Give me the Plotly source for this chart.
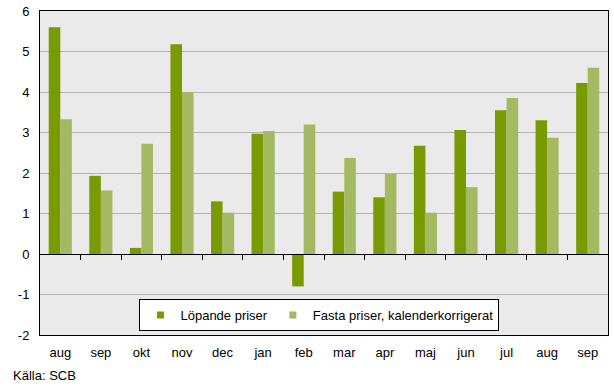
import plotly.graph_objects as go

months = ["aug", "sep", "okt", "nov", "dec", "jan", "feb", "mar", "apr", "maj", "jun", "jul", "aug", "sep"]
lopande = [5.6, 1.93, 0.15, 5.18, 1.3, 2.97, -0.8, 1.54, 1.4, 2.67, 3.06, 3.55, 3.3, 4.22]
fasta = [3.33, 1.57, 2.72, 4.0, 1.02, 3.04, 3.2, 2.37, 1.98, 1.02, 1.65, 3.85, 2.87, 4.6]
yticks = [-2, -1, 0, 1, 2, 3, 4, 5, 6]
source = "Källa: SCB"
names = ["Löpande priser", "Fasta priser, kalenderkorrigerat"]
colors = ["#7a9a01", "#a5b862"]

x = list(range(len(months)))
font = dict(family="Liberation Sans, Arial, sans-serif", size=13, color="#000000")

fig = go.Figure()
fig.add_trace(go.Bar(x=x, y=lopande, name=names[0], marker=dict(color=colors[0], line_width=0), showlegend=False))
fig.add_trace(go.Bar(x=x, y=fasta, name=names[1], marker=dict(color=colors[1], line_width=0), showlegend=False))
# legend proxies with small square symbols
for n, c in zip(names, colors):
    fig.add_trace(go.Scatter(x=[None], y=[None], mode="markers", name=n,
                             marker=dict(symbol="square", size=7, color=c)))
# invisible trace to activate the zero-line axis with ticks
fig.add_trace(go.Scatter(x=[x[0], x[-1]], y=[0, 0], xaxis="x2", mode="lines",
                         line=dict(width=0), showlegend=False, hoverinfo="skip"))

fig.update_layout(
    width=614, height=390,
    margin=dict(l=40, r=6, t=11, b=55),
    paper_bgcolor="white", plot_bgcolor="#eaeaea",
    font=font,
    barmode="group", bargap=0.43, bargroupgap=0,
    showlegend=True,
    legend=dict(orientation="h", x=0.492, xanchor="center", y=0.012, yanchor="bottom",
                bgcolor="white", bordercolor="black", borderwidth=1,
                font=dict(size=13), tracegroupgap=0, itemwidth=30),
    xaxis=dict(range=[-0.5, len(months) - 0.5], tickmode="array", tickvals=x, ticktext=months,
               showgrid=False, zeroline=False, showline=True, linecolor="black", linewidth=1,
               mirror=True, ticks="", ticklen=0, automargin=False, ticklabelstandoff=5),
    xaxis2=dict(range=[-0.5, len(months) - 0.5], overlaying="x", anchor="free", position=0.25,
                side="bottom", tickmode="array", tickvals=[i + 0.5 for i in x[:-1]],
                showticklabels=False, ticks="outside", ticklen=5, tickcolor="black", tickwidth=1,
                showline=True, linecolor="black", linewidth=1, showgrid=False, zeroline=False,
                automargin=False),
    yaxis=dict(range=[-2, 6], tickmode="array", tickvals=yticks, ticktext=[str(v) for v in yticks],
               showgrid=True, gridcolor="#b3b3b3", gridwidth=1, zeroline=False,
               showline=True, linecolor="black", linewidth=1, mirror=True,
               ticks="outside", ticklen=7, tickcolor="rgba(0,0,0,0)", automargin=False),
    annotations=[dict(text=source, xref="paper", yref="paper", x=-0.051, y=-0.095,
                      xanchor="left", yanchor="top", showarrow=False, font=dict(size=13))],
)

fig.write_html("out.html", config={"displayModeBar": False},
               post_script="document.body.style.margin='0';document.body.style.padding='0';")
